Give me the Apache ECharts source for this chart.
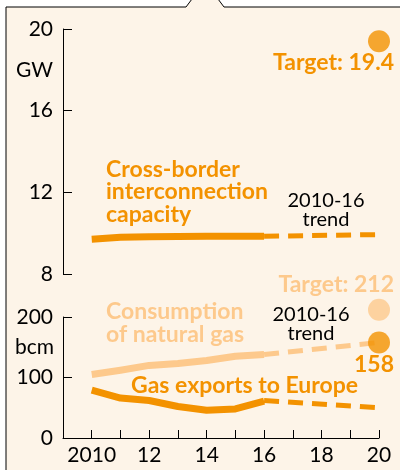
<!DOCTYPE html>
<html>
<head>
<meta charset="utf-8">
<script src="https://cdn.jsdelivr.net/npm/echarts@6/dist/echarts.min.js"></script>
<style>
  html, body { margin: 0; padding: 0; background: #fff; }
  #main { width: 400px; height: 470px; }
</style>
</head>
<body>
<div id="main"></div>
<script>
// 数据
const years = [2010, 2011, 2012, 2013, 2014, 2015, 2016];
const capacity = [9.7, 9.8, 9.83, 9.84, 9.85, 9.85, 9.85];
const capacityTrend = [[2016, 9.85], [2020, 9.93]];
const capacityTarget = [[2020, 19.4]];
const consumption = [105, 112, 120, 123, 128, 135, 138];
const consumptionTrend = [[2016, 138], [2020, 158]];
const consumptionTarget = [[2020, 212]];
const exportsEu = [79, 66, 62, 52, 46, 48, 61];
const exportsTrend = [[2016, 62], [2020, 50]];
const exportsEnd = [[2020, 158]];
const xLabels = { 2010: '2010', 2012: '12', 2014: '14', 2016: '16', 2018: '18', 2020: '20' };

const DARK = '#f39200', LIGHT = '#fdc98c', BG = '#fdf4e8';
const FONT = 'Lato, "Open Sans", sans-serif';
const pairs = (xs, ys) => xs.map((x, i) => [x, ys[i]]);

const chart = echarts.init(document.getElementById('main'));

const axisLine = { show: true, lineStyle: { color: '#000', width: 1 } };
const yLabel = { color: '#000', fontSize: 21, fontFamily: FONT, margin: 10 };

function line(xi, data, color, width, dashed) {
    return { type: 'line', xAxisIndex: xi, yAxisIndex: xi, data, showSymbol: false, symbol: 'none',
        lineStyle: { color, width, type: dashed ? [15, 9] : 'solid', cap: 'butt', join: 'round' },
        z: dashed ? 2 : 3, silent: true, animation: false };
}
function dot(xi, data, color) {
    return { type: 'scatter', xAxisIndex: xi, yAxisIndex: xi, data, symbolSize: 22,
        itemStyle: { color }, clip: false, z: 4, animation: false };
}
function txt(x, y, text, color, size, bold, align, lh) {
    return { type: 'text', x, y, style: { text, fill: color, fontSize: size, fontFamily: FONT,
        fontWeight: bold ? 'bold' : 'normal', textAlign: align || 'left', textVerticalAlign: 'middle', lineHeight: lh || size }, z: 10 };
}

const option = {
    backgroundColor: '#fff',
    animation: false,
    graphic: [
        { type: 'polygon', shape: { points: [[6, 480], [6, 7], [186, 7], [192, -1], [218, -1], [224, 7], [410, 7], [410, 480]] },
          style: { fill: BG, stroke: '#000', lineWidth: 1 }, z: -10 },
        txt(53, 70, 'GW', '#000', 21, false, 'right'),
        txt(54, 347, 'bcm', '#000', 21, false, 'right'),
        txt(394, 63, 'Target: 19.4', DARK, 23, true, 'right'),
        txt(106, 192, 'Cross-border\ninterconnection\ncapacity', DARK, 23, true, 'left', 22.5),
        txt(326, 210, '2010-16\ntrend', '#000', 20, false, 'center', 18.5),
        txt(394, 285, 'Target: 212', LIGHT, 23, true, 'right'),
        txt(106, 323.5, 'Consumption\nof natural gas', LIGHT, 23, true, 'left', 23),
        txt(311, 324, '2010-16\ntrend', '#000', 20, false, 'center', 18.5),
        txt(394, 365, '158', DARK, 23, true, 'right'),
        txt(131, 386, 'Gas exports to Europe', DARK, 23, true)
    ],
    grid: [
        { left: 63, right: 21, top: 29, height: 245 },
        { left: 63, right: 21, top: 317, height: 121 }
    ],
    xAxis: [
        { gridIndex: 0, type: 'value', min: 2009, max: 2020, show: false },
        { gridIndex: 1, type: 'value', min: 2009, max: 2020, interval: 1,
          axisLine: { show: true, onZero: false, lineStyle: { color: '#000', width: 1 } },
          axisTick: { show: true, inside: true, length: 8, lineStyle: { color: '#000' } },
          axisLabel: { color: '#000', fontSize: 21, fontFamily: FONT, margin: 7,
              formatter: v => xLabels[v] || '' },
          splitLine: { show: false } }
    ],
    yAxis: [
        { gridIndex: 0, type: 'value', min: 8, max: 20, interval: 4, axisLine,
          axisTick: { show: true, inside: true, length: 9, lineStyle: { color: '#000' } },
          axisLabel: yLabel, splitLine: { show: false } },
        { gridIndex: 1, type: 'value', min: 0, max: 200, interval: 100, axisLine,
          axisTick: { show: true, inside: true, length: 9, lineStyle: { color: '#000' } },
          axisLabel: yLabel, splitLine: { show: false } }
    ],
    series: [
        line(0, pairs(years, capacity), DARK, 7, false),
        line(0, capacityTrend, DARK, 5, true),
        dot(0, capacityTarget, DARK),
        line(1, pairs(years, consumption), LIGHT, 7, false),
        line(1, consumptionTrend, LIGHT, 5, true),
        dot(1, consumptionTarget, LIGHT),
        line(1, pairs(years, exportsEu), DARK, 7, false),
        line(1, exportsTrend, DARK, 5, true),
        dot(1, exportsEnd, DARK)
    ]
};
chart.setOption(option);
</script>
</body>
</html>
